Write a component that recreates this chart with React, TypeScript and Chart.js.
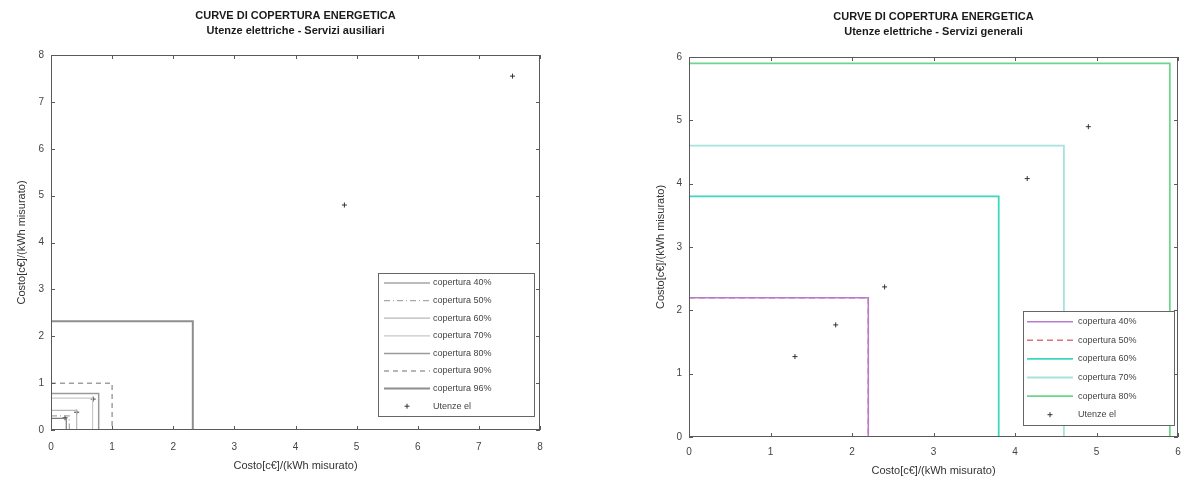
import React, { useEffect, useRef } from 'react';
import { Chart, registerables } from 'chart.js';

Chart.register(...registerables);

// ---------- DATA ----------
const titleLine1 = 'CURVE DI COPERTURA ENERGETICA';
const leftSubtitle = 'Utenze elettriche - Servizi ausiliari';
const rightSubtitle = 'Utenze elettriche - Servizi generali';
const xAxisLabel = 'Costo[c€]/(kWh misurato)';
const yAxisLabel = 'Costo[c€]/(kWh misurato)';
const pointsLabel = 'Utenze el';

const leftCoverageLabels = [
  'copertura 40%',
  'copertura 50%',
  'copertura 60%',
  'copertura 70%',
  'copertura 80%',
  'copertura 90%',
  'copertura 96%',
];
const leftCoverageValues = [0.25, 0.3, 0.42, 0.68, 0.78, 1.0, 2.32];
const leftPointsX = [0.23, 0.42, 0.69, 4.8, 7.55];
const leftPointsY = [0.26, 0.38, 0.66, 4.8, 7.55];
const leftXTicks = [0, 1, 2, 3, 4, 5, 6, 7, 8];
const leftYTicks = [0, 1, 2, 3, 4, 5, 6, 7, 8];

const rightCoverageLabels = [
  'copertura 40%',
  'copertura 50%',
  'copertura 60%',
  'copertura 70%',
  'copertura 80%',
];
const rightCoverageValues = [2.2, 2.2, 3.8, 4.6, 5.9];
const rightPointsX = [1.3, 1.8, 2.4, 4.15, 4.9];
const rightPointsY = [1.27, 1.77, 2.37, 4.08, 4.9];
const rightXTicks = [0, 1, 2, 3, 4, 5, 6];
const rightYTicks = [0, 1, 2, 3, 4, 5, 6];

// ---------- STYLES ----------
const leftLineColors = ['#7a7a7a', '#a8a8a8', '#b8b8b8', '#c8c8c8', '#9a9a9a', '#a0a0a0', '#8e8e8e'];
const leftLineDashes = [[], [6, 3, 1, 3], [], [], [], [5, 4], []];
const leftLineWidths = [1.2, 1.2, 1.2, 1.2, 1.5, 1.5, 2];

const rightLineColors = ['#b77ccc', '#e07080', '#3fd6bf', '#a6e2de', '#6fd58a'];
const rightLineDashes = [[], [6, 4], [], [], []];
const rightLineWidths = [1.5, 1.5, 1.8, 1.8, 1.8];

const FONT = "'Liberation Sans', Arial, Helvetica, sans-serif";

function stepPoints(v: number) {
  return [
    { x: 0, y: v },
    { x: v, y: v },
    { x: v, y: 0 },
  ];
}

// Axes box with inward tick marks (MATLAB style)
const boxPlugin = {
  id: 'boxPlugin',
  afterDatasetsDraw(chart: any) {
    const { ctx, chartArea } = chart;
    const { left, right, top, bottom } = chartArea;
    const xs = chart.scales.x;
    const ys = chart.scales.y;
    ctx.save();
    ctx.strokeStyle = '#5a5a5a';
    ctx.lineWidth = 1;
    ctx.strokeRect(left + 0.5, top + 0.5, right - left - 1, bottom - top - 1);
    const tl = 4;
    ctx.beginPath();
    xs.ticks.forEach((t: any) => {
      const px = Math.round(xs.getPixelForValue(t.value)) + 0.5;
      ctx.moveTo(px, bottom);
      ctx.lineTo(px, bottom - tl);
      ctx.moveTo(px, top);
      ctx.lineTo(px, top + tl);
    });
    ys.ticks.forEach((t: any) => {
      const py = Math.round(ys.getPixelForValue(t.value)) + 0.5;
      ctx.moveTo(left, py);
      ctx.lineTo(left + tl, py);
      ctx.moveTo(right, py);
      ctx.lineTo(right - tl, py);
    });
    ctx.stroke();
    ctx.restore();
  },
};

// Legend box drawn inside the plot area
const boxLegendPlugin = {
  id: 'boxLegend',
  afterDraw(chart: any, _args: any, opts: any) {
    const { ctx, chartArea } = chart;
    const ds = chart.data.datasets;
    const n = ds.length;
    const w = opts.width;
    const h = opts.rowHeight * n + opts.padY * 2;
    const x0 = chartArea.right - opts.insetRight - w;
    const y0 = chartArea.bottom - opts.insetBottom - h;
    ctx.save();
    ctx.fillStyle = '#ffffff';
    ctx.fillRect(x0, y0, w, h);
    ctx.strokeStyle = '#666';
    ctx.lineWidth = 1;
    ctx.strokeRect(Math.round(x0) + 0.5, Math.round(y0) + 0.5, Math.round(w), Math.round(h));
    ctx.font = `${opts.fontSize}px ${FONT}`;
    ctx.textBaseline = 'middle';
    ctx.textAlign = 'left';
    ds.forEach((d: any, i: number) => {
      const cy = y0 + opts.padY + opts.rowHeight * (i + 0.5);
      const sx0 = x0 + opts.sampleStart;
      const sx1 = sx0 + opts.sampleLen;
      if (d.showLine === false) {
        const cx = (sx0 + sx1) / 2;
        ctx.strokeStyle = d.borderColor;
        ctx.lineWidth = 1;
        ctx.beginPath();
        ctx.moveTo(cx - 2.5, cy);
        ctx.lineTo(cx + 2.5, cy);
        ctx.moveTo(cx, cy - 2.5);
        ctx.lineTo(cx, cy + 2.5);
        ctx.stroke();
      } else {
        ctx.strokeStyle = d.borderColor;
        ctx.lineWidth = d.borderWidth;
        ctx.setLineDash(d.borderDash || []);
        ctx.beginPath();
        ctx.moveTo(sx0, cy);
        ctx.lineTo(sx1, cy);
        ctx.stroke();
        ctx.setLineDash([]);
      }
      ctx.fillStyle = '#444';
      ctx.fillText(d.label, sx1 + opts.textGap, cy);
    });
    ctx.restore();
  },
};

type Cfg = {
  subtitle: string;
  labels: string[];
  values: number[];
  colors: string[];
  dashes: number[][];
  widths: number[];
  px: number[];
  py: number[];
  xTicks: number[];
  yTicks: number[];
  yAxisW: number;
  xAxisH: number;
  padRight: number;
  titlePadTop: number;
  titlePadBottom: number;
  yTitlePad: number;
  xTickPad: number;
  xTitlePadBottom: number;
  legend: any;
};

function buildConfig(c: Cfg): any {
  const datasets: any[] = c.values.map((v, i) => ({
    label: c.labels[i],
    data: stepPoints(v),
    borderColor: c.colors[i],
    backgroundColor: c.colors[i],
    borderDash: c.dashes[i],
    borderWidth: c.widths[i],
    pointRadius: 0,
    fill: false,
    tension: 0,
    showLine: true,
  }));
  datasets.push({
    label: pointsLabel,
    data: c.px.map((x, i) => ({ x, y: c.py[i] })),
    showLine: false,
    borderColor: '#333',
    backgroundColor: '#333',
    borderWidth: 1,
    pointStyle: 'cross',
    pointRadius: 2.5,
  });
  const xMin = c.xTicks[0];
  const xMax = c.xTicks[c.xTicks.length - 1];
  const yMin = c.yTicks[0];
  const yMax = c.yTicks[c.yTicks.length - 1];
  const tickFont = { family: FONT, size: 10 };
  return {
    type: 'line',
    data: { datasets },
    options: {
      animation: false,
      responsive: false,
      maintainAspectRatio: false,
      events: [],
      layout: { padding: { left: 0, right: c.padRight, top: 0, bottom: 0 } },
      plugins: {
        legend: { display: false },
        tooltip: { enabled: false },
        title: {
          display: true,
          fullSize: false,
          text: [titleLine1, c.subtitle],
          color: '#1a1a1a',
          font: { family: FONT, size: 11, weight: 'bold', lineHeight: '15px' },
          padding: { top: c.titlePadTop, bottom: c.titlePadBottom },
        },
        boxLegend: c.legend,
      },
      scales: {
        x: {
          type: 'linear',
          min: xMin,
          max: xMax,
          afterFit: (s: any) => {
            s.height = c.xAxisH;
          },
          afterBuildTicks: (s: any) => {
            s.ticks = c.xTicks.map((v) => ({ value: v }));
          },
          ticks: {
            autoSkip: false,
            maxRotation: 0,
            padding: c.xTickPad,
            color: '#444',
            font: tickFont,
          },
          grid: { display: false, drawTicks: false, tickLength: 0 },
          border: { display: false },
          title: {
            display: true,
            text: xAxisLabel,
            color: '#333',
            font: { family: FONT, size: 11 },
            padding: { top: 0, bottom: c.xTitlePadBottom },
          },
        },
        y: {
          type: 'linear',
          min: yMin,
          max: yMax,
          afterFit: (s: any) => {
            s.width = c.yAxisW;
          },
          afterBuildTicks: (s: any) => {
            s.ticks = c.yTicks.map((v) => ({ value: v }));
          },
          ticks: {
            autoSkip: false,
            padding: 7,
            color: '#444',
            font: tickFont,
          },
          grid: { display: false, drawTicks: false, tickLength: 0 },
          border: { display: false },
          title: {
            display: true,
            text: yAxisLabel,
            color: '#333',
            font: { family: FONT, size: 11 },
            padding: { top: c.yTitlePad, bottom: 0 },
          },
        },
      },
    },
    plugins: [boxPlugin, boxLegendPlugin],
  };
}

const leftCfg: Cfg = {
  subtitle: leftSubtitle,
  labels: leftCoverageLabels,
  values: leftCoverageValues,
  colors: leftLineColors,
  dashes: leftLineDashes,
  widths: leftLineWidths,
  px: leftPointsX,
  py: leftPointsY,
  xTicks: leftXTicks,
  yTicks: leftYTicks,
  yAxisW: 51,
  xAxisH: 54,
  padRight: 56,
  titlePadTop: 8,
  titlePadBottom: 17,
  yTitlePad: 15,
  xTickPad: 11,
  xTitlePadBottom: 11,
  legend: {
    width: 156,
    rowHeight: 17.6,
    padY: 1,
    insetRight: 6,
    insetBottom: 14,
    sampleStart: 6,
    sampleLen: 46,
    textGap: 3,
    fontSize: 9,
  },
};

const rightCfg: Cfg = {
  subtitle: rightSubtitle,
  labels: rightCoverageLabels,
  values: rightCoverageValues,
  colors: rightLineColors,
  dashes: rightLineDashes,
  widths: rightLineWidths,
  px: rightPointsX,
  py: rightPointsY,
  xTicks: rightXTicks,
  yTicks: rightYTicks,
  yAxisW: 93,
  xAxisH: 47,
  padRight: 14,
  titlePadTop: 9,
  titlePadBottom: 18,
  yTitlePad: 58,
  xTickPad: 9,
  xTitlePadBottom: 6,
  legend: {
    width: 151,
    rowHeight: 18.6,
    padY: 1,
    insetRight: 4,
    insetBottom: 12,
    sampleStart: 4,
    sampleLen: 46,
    textGap: 5,
    fontSize: 9,
  },
};

function ChartCanvas({ cfg, left }: { cfg: Cfg; left: number }) {
  const ref = useRef<HTMLCanvasElement | null>(null);
  useEffect(() => {
    if (!ref.current) return;
    const chart = new Chart(ref.current, buildConfig(cfg));
    return () => chart.destroy();
  }, [cfg]);
  return (
    <canvas
      ref={ref}
      width={596}
      height={484}
      style={{ position: 'absolute', left, top: 0, width: 596, height: 484 }}
    />
  );
}

export default function App() {
  return (
    <div
      style={{
        position: 'fixed',
        left: 0,
        top: 0,
        width: 1192,
        height: 484,
        background: '#ffffff',
        overflow: 'hidden',
      }}
    >
      <ChartCanvas cfg={leftCfg} left={0} />
      <ChartCanvas cfg={rightCfg} left={596} />
    </div>
  );
}
